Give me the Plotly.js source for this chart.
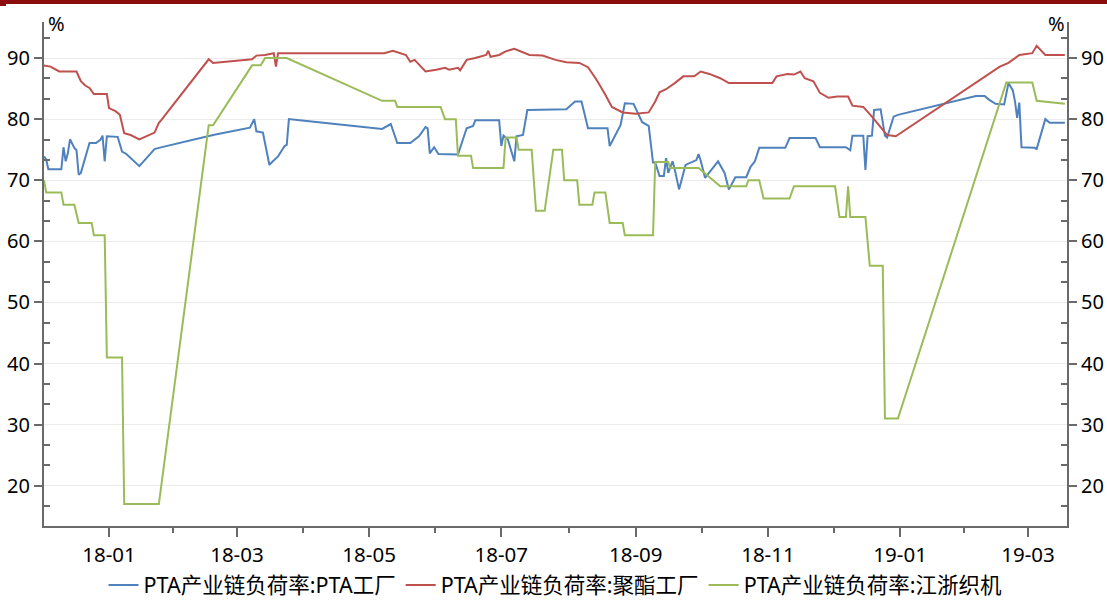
<!DOCTYPE html>
<html>
<head>
<meta charset="utf-8">
<script src="https://cdn.plot.ly/plotly-3.0.1.min.js"></script>
<style>
  html, body { margin: 0; padding: 0; background: #fff; }
  #chart { width: 1107px; height: 601px; }
</style>
</head>
<body>
<div id="chart"></div>
<script>
// ---------------- data ----------------
const seriesNames = ['PTA产业链负荷率:PTA工厂', 'PTA产业链负荷率:聚酯工厂', 'PTA产业链负荷率:江浙织机'];

const ptaDates = ['2017-12-02','2017-12-03','2017-12-04','2017-12-10','2017-12-11','2017-12-12','2017-12-13','2017-12-14','2017-12-16','2017-12-17','2017-12-18','2017-12-19','2017-12-23','2017-12-26','2017-12-28','2017-12-29','2017-12-30','2017-12-31','2018-01-05','2018-01-07','2018-01-09','2018-01-15','2018-01-22','2018-01-24','2018-02-18','2018-03-07','2018-03-09','2018-03-10','2018-03-13','2018-03-16','2018-03-17','2018-03-20','2018-03-23','2018-03-24','2018-03-25','2018-03-30','2018-05-07','2018-05-11','2018-05-14','2018-05-20','2018-05-24','2018-05-27','2018-05-28','2018-05-29','2018-05-31','2018-06-02','2018-06-11','2018-06-15','2018-06-18','2018-06-19','2018-06-30','2018-07-01','2018-07-02','2018-07-04','2018-07-07','2018-07-08','2018-07-11','2018-07-13','2018-07-31','2018-08-04','2018-08-07','2018-08-10','2018-08-19','2018-08-20','2018-08-25','2018-08-27','2018-08-31','2018-09-04','2018-09-07','2018-09-09','2018-09-10','2018-09-12','2018-09-14','2018-09-15','2018-09-16','2018-09-18','2018-09-19','2018-09-21','2018-09-24','2018-09-26','2018-09-29','2018-09-30','2018-10-01','2018-10-03','2018-10-09','2018-10-12','2018-10-14','2018-10-17','2018-10-22','2018-10-24','2018-10-26','2018-10-28','2018-11-09','2018-11-11','2018-11-23','2018-11-25','2018-12-07','2018-12-09','2018-12-10','2018-12-15','2018-12-16','2018-12-17','2018-12-19','2018-12-20','2018-12-23','2018-12-25','2018-12-26','2018-12-29','2018-12-31','2019-02-05','2019-02-09','2019-02-11','2019-02-14','2019-02-18','2019-02-20','2019-02-22','2019-02-23','2019-02-24','2019-02-25','2019-02-26','2019-03-04','2019-03-05','2019-03-09','2019-03-11','2019-03-18'];
const ptaValues = [73.9,73.4,71.8,71.8,75.4,73.1,74.4,76.7,75.3,74.9,70.9,71.2,76.1,76.1,76.6,77.3,73.1,77.2,77.1,74.7,74.3,72.3,75.1,75.3,77.4,78.6,80.0,78.0,77.8,72.5,72.9,73.9,75.6,75.8,80.0,79.8,78.4,79.2,76.1,76.1,77.2,78.7,78.5,74.4,75.4,74.3,74.2,78.5,78.9,79.8,79.8,75.6,77.3,76.7,73.1,77.2,77.4,81.5,81.6,82.9,82.9,78.5,78.5,75.6,79.0,82.6,82.5,79.5,78.9,72.9,72.9,70.7,70.7,73.6,71.2,73.1,71.8,68.5,72.5,72.8,73.3,74.3,73.2,70.4,73.1,71.2,68.5,70.5,70.5,72.2,73.1,75.3,75.3,76.9,76.9,75.4,75.4,74.9,77.3,77.3,71.7,77.2,77.3,81.5,81.6,77.3,77.0,80.4,80.7,83.8,83.8,83.2,82.5,82.4,85.9,84.7,82.9,80.2,82.7,75.4,75.3,75.1,80.0,79.4,79.4];

const polyDates = ['2017-12-02','2017-12-05','2017-12-09','2017-12-17','2017-12-19','2017-12-21','2017-12-23','2017-12-25','2017-12-31','2018-01-01','2018-01-04','2018-01-06','2018-01-08','2018-01-11','2018-01-15','2018-01-18','2018-01-22','2018-01-24','2018-01-25','2018-02-16','2018-02-18','2018-03-08','2018-03-10','2018-03-14','2018-03-17','2018-03-18','2018-03-19','2018-03-20','2018-05-08','2018-05-12','2018-05-18','2018-05-20','2018-05-22','2018-05-27','2018-06-01','2018-06-05','2018-06-07','2018-06-11','2018-06-12','2018-06-15','2018-06-19','2018-06-24','2018-06-25','2018-06-26','2018-06-30','2018-07-03','2018-07-07','2018-07-10','2018-07-14','2018-07-20','2018-07-26','2018-07-31','2018-08-06','2018-08-10','2018-08-14','2018-08-18','2018-08-21','2018-08-26','2018-09-01','2018-09-07','2018-09-10','2018-09-12','2018-09-15','2018-09-19','2018-09-23','2018-09-28','2018-10-01','2018-10-05','2018-10-10','2018-10-14','2018-11-03','2018-11-05','2018-11-10','2018-11-13','2018-11-16','2018-11-18','2018-11-22','2018-11-25','2018-11-29','2018-12-03','2018-12-08','2018-12-10','2018-12-15','2018-12-19','2018-12-23','2018-12-26','2018-12-30','2019-02-16','2019-02-20','2019-02-25','2019-03-03','2019-03-05','2019-03-09','2019-03-18'];
const polyValues = [88.8,88.6,87.8,87.8,86.2,85.5,85.1,84.1,84.1,81.8,81.3,80.7,77.7,77.4,76.7,77.2,77.8,79.4,79.8,89.8,89.2,89.8,90.4,90.5,90.8,90.8,88.6,90.8,90.8,91.2,90.5,89.4,89.7,87.8,88.1,88.4,88.1,88.4,88.0,89.7,90.0,90.5,91.2,90.2,90.5,91.1,91.5,91.1,90.5,90.4,89.7,89.3,89.2,88.5,86.4,84.0,82.0,81.1,80.9,81.1,82.9,84.4,84.9,85.9,87.0,87.0,87.8,87.4,86.7,85.9,85.9,87.0,87.4,87.3,87.8,86.7,86.2,84.3,83.5,83.7,83.7,82.2,82.0,80.4,78.7,77.4,77.2,88.6,89.2,90.5,90.8,92.0,90.5,90.5];

const loomDates = ['2017-12-02','2017-12-03','2017-12-10','2017-12-11','2017-12-16','2017-12-18','2017-12-24','2017-12-25','2017-12-30','2017-12-31','2018-01-07','2018-01-08','2018-01-24','2018-02-16','2018-02-18','2018-03-08','2018-03-12','2018-03-14','2018-03-24','2018-05-07','2018-05-13','2018-05-14','2018-06-03','2018-06-05','2018-06-10','2018-06-11','2018-06-17','2018-06-18','2018-07-02','2018-07-03','2018-07-08','2018-07-09','2018-07-15','2018-07-17','2018-07-21','2018-07-25','2018-07-29','2018-07-30','2018-08-05','2018-08-06','2018-08-12','2018-08-13','2018-08-18','2018-08-20','2018-08-26','2018-08-27','2018-09-09','2018-09-10','2018-09-16','2018-09-17','2018-09-30','2018-10-10','2018-10-22','2018-10-23','2018-10-28','2018-10-30','2018-11-11','2018-11-13','2018-12-02','2018-12-04','2018-12-07','2018-12-08','2018-12-09','2018-12-16','2018-12-18','2018-12-24','2018-12-25','2018-12-31','2019-02-19','2019-03-03','2019-03-05','2019-03-18'];
const loomValues = [70,68,68,66,66,63,63,61,61,41,41,17,17,79,79,88.8,88.8,90,90,83,83,82,82,80,80,74,74,72,72,77,77,75,75,65,65,75,75,70,70,66,66,68,68,63,63,61,61,73,73,72,72,69,69,70,70,67,67,69,69,64,64,69,64,64,56,56,31,31,86,86,83,82.5];

const xTickDates = ['2018-01-01','2018-03-01','2018-05-01','2018-07-01','2018-09-01','2018-11-01','2019-01-01','2019-03-01'];
const xTickLabels = ['18-01','18-03','18-05','18-07','18-09','18-11','19-01','19-03'];
const xMinorDates = ['2018-01-30 12:00','2018-03-31 12:00','2018-05-31 12:00','2018-08-01','2018-10-01 12:00','2018-12-01 12:00','2019-01-30 12:00'];

// ---------------- layout ----------------
const W = 1107, H = 601;
const M = {l: 44, r: 40, t: 22, b: 75, autoexpand: false};
const pw = W - M.l - M.r, ph = H - M.t - M.b;
const px = v => (v - M.l) / pw;
const py = v => 1 - (v - M.t) / ph;

const yRange = [13.4, 95.9];
const yMinor = [];
for (let k = 1; k < 30; k++) {
  if (k % 3 !== 0) {
    const v = k * 10 / 3;
    if (v > yRange[0] && v < yRange[1]) yMinor.push(v);
  }
}

const axisColor = '#6a6a6a';
const fontFamily = '"Noto Sans", "Noto Sans CJK SC", sans-serif';

const yCommon = {
  range: yRange,
  tickmode: 'linear', tick0: 0, dtick: 10,
  ticks: 'outside', ticklen: 8, tickwidth: 2, tickcolor: axisColor,
  showline: true, linecolor: axisColor, linewidth: 2,
  zeroline: false,
  tickfont: {size: 20, color: '#000'},
  minor: {tickmode: 'array', tickvals: yMinor, ticks: 'inside', ticklen: 6, tickwidth: 2, tickcolor: axisColor, showgrid: false}
};

const traces = [
  {x: ptaDates, y: ptaValues, name: seriesNames[0], type: 'scatter', mode: 'lines',
   line: {color: '#4F81BD', width: 2}},
  {x: polyDates, y: polyValues, name: seriesNames[1], type: 'scatter', mode: 'lines',
   line: {color: '#C0504D', width: 2}},
  {x: loomDates, y: loomValues, name: seriesNames[2], type: 'scatter', mode: 'lines', yaxis: 'y2',
   line: {color: '#9BBB59', width: 2}}
];

const layout = {
  width: W, height: H,
  margin: M,
  paper_bgcolor: '#fff', plot_bgcolor: '#fff',
  font: {family: fontFamily, size: 20, color: '#000'},
  showlegend: true,
  legend: {orientation: 'h', x: 0.5, xanchor: 'center', y: py(585), yanchor: 'middle',
           font: {size: 21.5, color: '#000'}, bgcolor: 'rgba(0,0,0,0)', traceorder: 'normal'},
  xaxis: {
    type: 'date', range: ['2017-12-02', '2019-03-19'],
    tickmode: 'array', tickvals: xTickDates, ticktext: xTickLabels,
    ticks: 'outside', ticklen: 9, tickwidth: 2, tickcolor: axisColor,
    showline: true, linecolor: axisColor, linewidth: 2,
    showgrid: false, zeroline: false,
    tickfont: {size: 20.5, color: '#000'},
    minor: {tickmode: 'array', tickvals: xMinorDates, ticks: 'outside', ticklen: 5, tickwidth: 2, tickcolor: axisColor, showgrid: false}
  },
  yaxis: Object.assign({}, yCommon, {side: 'left', showgrid: true, gridcolor: '#ebebeb', gridwidth: 1}),
  yaxis2: Object.assign({}, yCommon, {side: 'right', overlaying: 'y', anchor: 'x', showgrid: false}),
  annotations: [
    {xref: 'paper', yref: 'paper', x: px(56), y: py(24), text: '%', showarrow: false,
     xanchor: 'center', yanchor: 'middle', font: {size: 20, color: '#000'}},
    {xref: 'paper', yref: 'paper', x: px(1056), y: py(24), text: '%', showarrow: false,
     xanchor: 'center', yanchor: 'middle', font: {size: 20, color: '#000'}}
  ],
  shapes: [
    {type: 'rect', xref: 'paper', yref: 'paper', x0: px(0), x1: px(W), y0: py(4), y1: py(0),
     fillcolor: '#8B0D0D', line: {width: 0}, layer: 'above'},
    {type: 'rect', xref: 'paper', yref: 'paper', x0: px(0), x1: px(6), y0: py(6), y1: py(0),
     fillcolor: '#8B0D0D', line: {width: 0}, layer: 'above'}
  ]
};

Plotly.newPlot('chart', traces, layout, {displayModeBar: false, staticPlot: true});
</script>
</body>
</html>
